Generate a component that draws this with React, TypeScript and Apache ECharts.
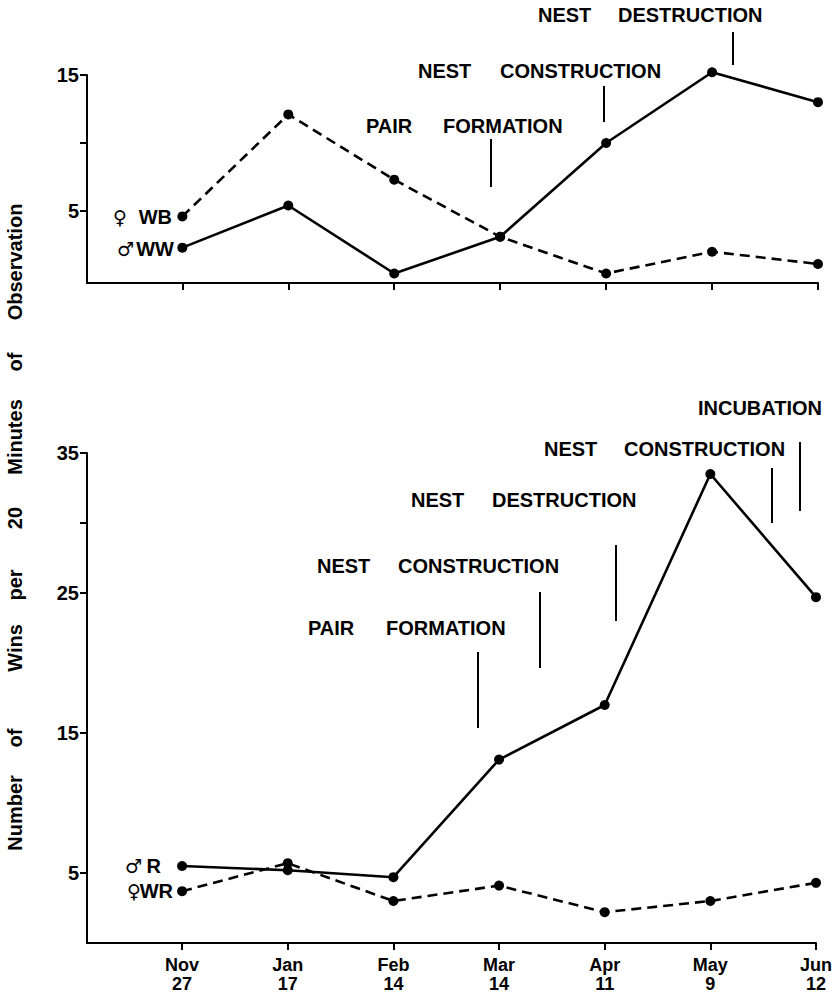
import React, { useEffect, useRef } from "react";
import * as echarts from "echarts";

// Sampling dates (category index 0..6 on the x value axis)
const dates = ["Nov\n27", "Jan\n17", "Feb\n14", "Mar\n14", "Apr\n11", "May\n9", "Jun\n12"];

// Upper panel: wins per 20 minutes of observation
const maleWW = [2.3, 5.4, 0.4, 3.1, 10.0, 15.2, 13.0];
const femaleWB = [4.6, 12.1, 7.3, 3.1, 0.4, 2.0, 1.1];

// Lower panel
const maleR = [5.5, 5.2, 4.7, 13.1, 17.0, 33.5, 24.7];
const femaleWR = [3.7, 5.7, 3.0, 4.1, 2.2, 3.0, 4.3];

// Axis ticks and labels
const dateTicks = [0, 1, 2, 3, 4, 5, 6];
const topTicks = [5, 10, 15];
const topLabels = [5, 15];
const bottomTicks = [5, 15, 25, 30, 35];
const bottomLabels = [5, 15, 25, 35];

const FONT = "'Liberation Sans', Arial, Helvetica, sans-serif";
const SYMBOL_FONT = "'DejaVu Sans', 'Noto Sans', sans-serif";

const txt = (text: string, x: number, y: number, size = 20, align = "left", family = FONT) => ({
  type: "text",
  x,
  y,
  silent: true,
  style: {
    text,
    fill: "#000",
    fontSize: size,
    fontWeight: "bold",
    fontFamily: family,
    align,
    verticalAlign: "middle",
  },
});

const vline = (x: number, y1: number, y2: number) => ({
  type: "line",
  silent: true,
  shape: { x1: x, y1, x2: x, y2 },
  style: { stroke: "#000", lineWidth: 2 },
});

const vword = (text: string, y: number) => ({
  type: "text",
  x: 15,
  y,
  rotation: Math.PI / 2,
  silent: true,
  style: {
    text,
    fill: "#000",
    fontSize: 20,
    fontWeight: "bold",
    fontFamily: FONT,
    align: "center",
    verticalAlign: "middle",
  },
});

const pairs = (vals: number[]) => vals.map((v, i) => [i, v]);

const lineSeries = (data: number[], idx: number, dashed: boolean) => ({
  type: "line",
  xAxisIndex: idx,
  yAxisIndex: idx,
  data: pairs(data),
  clip: false,
  symbol: "circle",
  symbolSize: 10,
  itemStyle: { color: "#000" },
  lineStyle: {
    color: "#000",
    width: 2.6,
    type: dashed ? [10, 6] : "solid",
  },
  z: dashed ? 3 : 4,
});

const xAxisBase = (idx: number, showLabels: boolean) => ({
  type: "value",
  gridIndex: idx,
  min: -0.9,
  max: 6,
  axisLine: { show: true, onZero: false, lineStyle: { color: "#000", width: 2 } },
  axisTick: {
    show: true,
    customValues: dateTicks,
    length: 7,
    lineStyle: { color: "#000", width: 2 },
  },
  splitLine: { show: false },
  axisLabel: {
    show: showLabels,
    customValues: dateTicks,
    formatter: (v: number) => dates[Math.round(v)] ?? "",
    color: "#000",
    fontSize: 18,
    fontWeight: "bold",
    fontFamily: FONT,
    lineHeight: 19,
    margin: 12,
  },
});

const yAxisBase = (idx: number, min: number, max: number, ticks: number[], labels: number[]) => ({
  type: "value",
  gridIndex: idx,
  min,
  max,
  axisLine: { show: true, onZero: false, lineStyle: { color: "#000", width: 2 } },
  axisTick: {
    show: true,
    customValues: ticks,
    length: 7,
    lineStyle: { color: "#000", width: 2 },
  },
  splitLine: { show: false },
  axisLabel: {
    show: true,
    customValues: labels,
    color: "#000",
    fontSize: 20,
    fontWeight: "bold",
    fontFamily: FONT,
    margin: 8,
  },
});

export default function App() {
  const ref = useRef<HTMLDivElement>(null);

  useEffect(() => {
    if (!ref.current) return;
    const chart = echarts.init(ref.current, undefined, { renderer: "svg" });

    chart.setOption({
      animation: false,
      backgroundColor: "#fff",
      grid: [
        { left: 87, top: 75, width: 731, height: 208 },
        { left: 87, top: 453, width: 731, height: 490 },
      ],
      xAxis: [xAxisBase(0, false), xAxisBase(1, true)],
      yAxis: [
        yAxisBase(0, -0.3, 15, topTicks, topLabels),
        yAxisBase(1, 0, 35, bottomTicks, bottomLabels),
      ],
      series: [
        lineSeries(femaleWB, 0, true),
        lineSeries(maleWW, 0, false),
        lineSeries(femaleWR, 1, true),
        lineSeries(maleR, 1, false),
      ],
      graphic: [
        // upper panel: breeding-stage markers
        txt("NEST", 538, 15),
        txt("DESTRUCTION", 618, 15),
        vline(733, 32, 65),
        txt("NEST", 418, 71),
        txt("CONSTRUCTION", 500, 71),
        vline(604, 86, 122),
        txt("PAIR", 366, 126),
        txt("FORMATION", 443, 126),
        vline(491, 139, 187),

        // upper panel: bird labels
        txt("♀", 127, 217, 19, "right", SYMBOL_FONT),
        txt("WB", 172, 217, 20, "right"),
        txt("♂", 134, 249, 19, "right", SYMBOL_FONT),
        txt("WW", 174, 249, 20, "right"),

        // lower panel: breeding-stage markers
        txt("INCUBATION", 822, 408, 20, "right"),
        txt("NEST", 544, 449),
        txt("CONSTRUCTION", 624, 449),
        vline(800, 442, 511),
        vline(772, 468, 523),
        txt("NEST", 411, 500),
        txt("DESTRUCTION", 492, 500),
        vline(616, 545, 621),
        txt("NEST", 317, 566),
        txt("CONSTRUCTION", 398, 566),
        vline(540, 592, 668),
        txt("PAIR", 308, 628),
        txt("FORMATION", 386, 628),
        vline(478, 652, 728),

        // lower panel: bird labels
        txt("♂", 142, 866, 19, "right", SYMBOL_FONT),
        txt("R", 161, 866, 20, "right"),
        txt("♀", 141, 891, 19, "right", SYMBOL_FONT),
        txt("WR", 173, 891, 20, "right"),

        // shared y-axis title
        vword("Number", 813),
        vword("of", 738),
        vword("Wins", 648),
        vword("per", 585),
        vword("20", 518),
        vword("Minutes", 437),
        vword("of", 362),
        vword("Observation", 262),
      ],
    });

    return () => chart.dispose();
  }, []);

  return (
    <div
      ref={ref}
      style={{ position: "fixed", left: 0, top: 0, width: 835, height: 997, background: "#fff" }}
    />
  );
}
